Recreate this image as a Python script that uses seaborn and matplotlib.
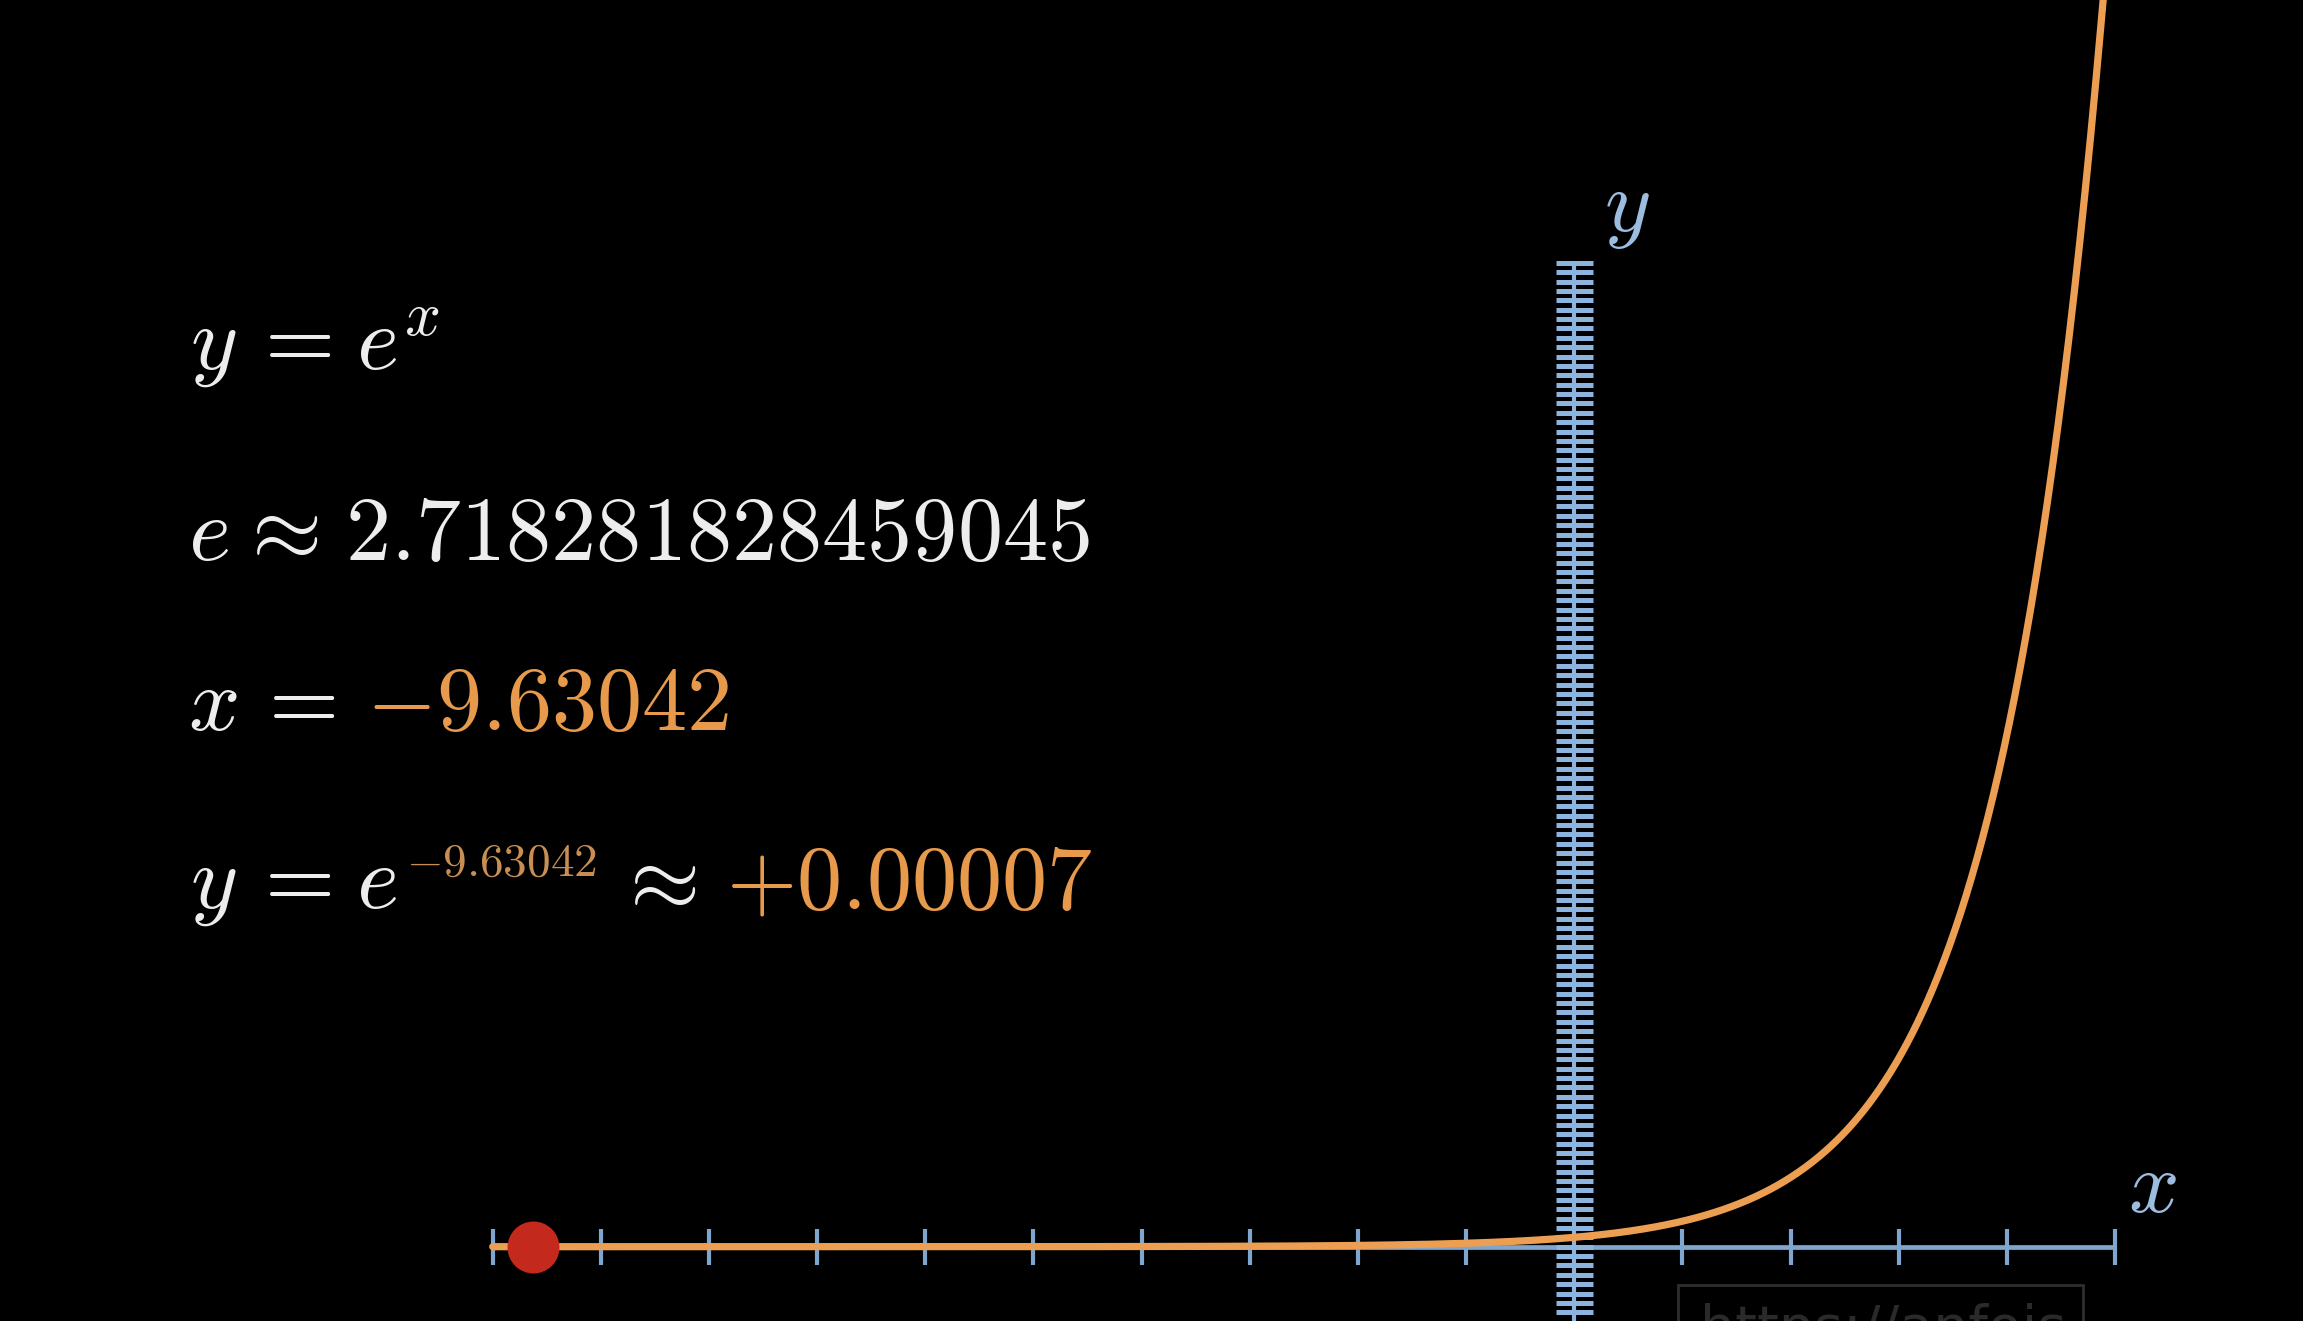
import numpy as np
import matplotlib
matplotlib.use("Agg")
import matplotlib.pyplot as plt
import matplotlib.transforms as mtransforms
from matplotlib.patches import Rectangle
import seaborn as sns

# ---------------- data ----------------
x_ticks = [-10, -9, -8, -7, -6, -5, -4, -3, -2, -1, 1, 2, 3, 4, 5]
x_range = [-10, 5]
y_range = [-8, 105]
y_ticks = list(range(-7, 106))
curve_x = np.linspace(-10, 5, 1200)
curve_y = np.exp(curve_x)          # the plotted function y = e^x
point_x = [-9.63042]
point_y = [np.exp(-9.63042)]

line1 = r"$y\hspace{0.185}=\hspace{0.075}e^x$"
line2 = r"$e\hspace{0.07}\approx\hspace{0.1}2.718281828459045$"
line3_a = r"$x\hspace{0.17}=$"
line3_b = r"$-9.63042$"
line4_a = r"$y\hspace{0.185}=\hspace{0.075}e$"
line4_sup = r"$-9.63042$"
line4_approx = r"$\approx$"
line4_val = r"$+0.00007$"

# ---------------- style ----------------
W, H, DPI = 2303, 1321, 100
sns.set_theme(style="dark")
plt.rcParams["mathtext.fontset"] = "cm"
plt.rcParams["font.family"] = ["DejaVu Serif"]

BG = "#000000"
WHITE = "#EDEDED"
ORANGE = "#EC9F52"
ORANGE_T = "#E89A4C"
ORANGE_SUP = "#C98F52"
RED = "#C3291D"
BLUE = "#7EA6CE"
BLUE_T = "#8DB4DE"
LABEL = "#9CBDE0"

fig = plt.figure(figsize=(W / DPI, H / DPI), dpi=DPI, facecolor=BG)
ax = fig.add_axes([0, 0, 1, 1])
ax.set_facecolor(BG)

# pixel -> data mapping
x0_px, unit_x = 1574.2, 108.15
y0_px, unit_y = 1246.7, 9.37
ax.set_xlim((0 - x0_px) / unit_x, (W - x0_px) / unit_x)
ax.set_ylim((y0_px - H) / unit_y, (y0_px - 0) / unit_y)
ax.axis("off")

# x axis
ax.plot(x_range, [0, 0], color=BLUE, lw=3.4, solid_capstyle="butt", zorder=2)
tick_half_y = 18 / unit_y
ax.vlines(x_ticks, -tick_half_y, tick_half_y, color=BLUE, lw=3.0, zorder=2)

# y axis (dense ticks)
tick_half_x = 18.5 / unit_x
ax.plot([0, 0], y_range, color=BLUE_T, lw=3.0, solid_capstyle="butt", zorder=2)
ax.hlines(y_ticks, -tick_half_x, tick_half_x, color=BLUE_T, lw=3.6, zorder=2)

# curve and point
sns.lineplot(x=curve_x, y=curve_y, ax=ax, color=ORANGE, lw=5.2, sort=False,
             zorder=3, estimator=None)
sns.scatterplot(x=point_x, y=point_y, ax=ax, color=RED, s=1400, linewidth=0,
                zorder=4)

# axis labels
ax.text(5.35, 6.3, r"$x$", color=LABEL, fontsize=64, ha="center", va="center")
ax.text(0.49, 110.9, r"$y$", color=LABEL, fontsize=64, ha="center", va="center")

# ---------------- formulas (pixel coordinates, y from top) ----------------
ident = mtransforms.IdentityTransform()

def put(s, x_px, base_px, color, size):
    fig.text(x_px, H - base_px, s, color=color, fontsize=size,
             transform=ident, ha="left", va="baseline")

FS = 65
put(line1, 190, 370, WHITE, FS)
put(line2, 188, 560, WHITE, FS)
put(line3_a, 188, 730, WHITE, FS)
put(line3_b, 366, 730, ORANGE_T, FS)
put(line4_a, 190, 908, WHITE, FS)
put(line4_sup, 406, 876, ORANGE_SUP, 34)
put(line4_approx, 614, 908, WHITE, FS)
put(line4_val, 726, 908, ORANGE_T, FS)

# faint watermark box at the bottom
fig.patches.append(Rectangle((1678, H - 1400), 405, 115, transform=ident,
                             fill=False, edgecolor="#2E2E2E", lw=2))
fig.text(1700, H - 1345, "https://anfois", color="#2A2A2A", fontsize=40,
         transform=ident, ha="left", va="baseline", family="DejaVu Sans")

fig.savefig("out.png", dpi=DPI, facecolor=BG)
